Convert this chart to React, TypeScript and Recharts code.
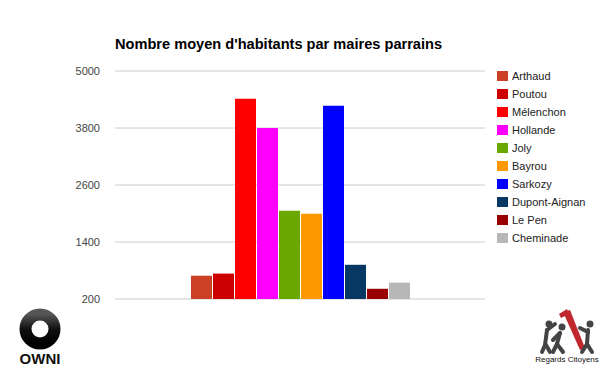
import { BarChart, Bar, XAxis, YAxis, CartesianGrid } from "recharts"

const candidates = ["Arthaud", "Poutou", "Mélenchon", "Hollande", "Joly", "Bayrou", "Sarkozy", "Dupont-Aignan", "Le Pen", "Cheminade"]
const averages = [690, 735, 4415, 3800, 2060, 1995, 4270, 920, 415, 545]
const colors = ["#cc4125", "#cc0000", "#ff0000", "#ff00ff", "#6aa800", "#ff9900", "#0000ff", "#073763", "#990000", "#b7b7b7"]
const yTicks = [200, 1400, 2600, 3800, 5000]

const FONT = "Arial, 'Liberation Sans', sans-serif"

// one category, one series per candidate
const row: Record<string, number | string> = { name: "" }
candidates.forEach((c, i) => { row[c] = averages[i] })
const chartData = [row]

function LegendList() {
  return (
    <div style={{ position: "absolute", left: 497, top: 67, fontFamily: FONT, fontSize: 11, color: "#222" }}>
      {candidates.map((c, i) => (
        <div key={c} style={{ display: "flex", alignItems: "center", height: 18 }}>
          <span style={{ width: 11, height: 10, background: colors[i], display: "inline-block", marginRight: 4 }} />
          <span>{c}</span>
        </div>
      ))}
    </div>
  )
}

function OwniLogo() {
  return (
    <svg width={70} height={70} style={{ position: "absolute", left: 5, top: 300 }}>
      <defs>
        <linearGradient id="ring" x1="0" y1="0" x2="0" y2="1">
          <stop offset="0" stopColor="#555" />
          <stop offset="0.5" stopColor="#111" />
          <stop offset="1" stopColor="#000" />
        </linearGradient>
      </defs>
      <circle cx={35} cy={29} r={14.5} fill="none" stroke="url(#ring)" strokeWidth={12} />
      <text x={35} y={64} textAnchor="middle" fontFamily={FONT} fontWeight="bold" fontSize={15} fill="#111">OWNI</text>
    </svg>
  )
}

function RegardsLogo() {
  return (
    <svg width={70} height={70} style={{ position: "absolute", left: 530, top: 300 }}>
      <polygon points="33,12 40,10 55,48 50,50" fill="#c0282d" />
      <polygon points="29,14 37,9 39,14 31,18" fill="#c0282d" />
      <g stroke="#444" strokeWidth={4} strokeLinecap="round" fill="none">
        <line x1={17} y1={30} x2={15} y2={45} />
        <line x1={15} y1={45} x2={12} y2={52} />
        <line x1={16} y1={45} x2={20} y2={52} />
        <line x1={17} y1={30} x2={25} y2={24} />
        <line x1={30} y1={33} x2={27} y2={44} />
        <line x1={27} y1={44} x2={23} y2={52} />
        <line x1={27} y1={44} x2={33} y2={52} />
        <line x1={30} y1={33} x2={23} y2={40} />
        <line x1={58} y1={30} x2={57} y2={44} />
        <line x1={57} y1={44} x2={52} y2={52} />
        <line x1={57} y1={44} x2={62} y2={52} />
        <line x1={58} y1={32} x2={50} y2={28} />
      </g>
      <g fill="#444">
        <circle cx={19} cy={24} r={3.5} />
        <circle cx={32} cy={27} r={3.5} />
        <circle cx={60} cy={24} r={3.5} />
      </g>
      <text x={37} y={62} textAnchor="middle" fontFamily={FONT} fontSize={8} fill="#111">Regards Citoyens</text>
    </svg>
  )
}

export default function App() {
  return (
    <div style={{ position: "absolute", left: 0, top: 0, width: 600, height: 371, background: "#fff" }}>
      <div style={{ position: "absolute", left: 115, top: 36, fontFamily: FONT, fontWeight: "bold", fontSize: 14.6, color: "#000", whiteSpace: "nowrap" }}>
        Nombre moyen d'habitants par maires parrains
      </div>
      <BarChart
        width={600}
        height={371}
        data={chartData}
        margin={{ top: 71, right: 115, bottom: 72, left: 15 }}
        barGap={1}
        barCategoryGap={76}
      >
        <CartesianGrid horizontal vertical={false} stroke="#cccccc" />
        <XAxis dataKey="name" height={0} tick={false} tickLine={false} axisLine={{ stroke: "#333", strokeWidth: 1 }} />
        <YAxis
          width={100}
          domain={[200, 5000]}
          ticks={yTicks}
          interval={0}
          axisLine={false}
          tickLine={false}
          tickSize={0}
          tickMargin={15}
          tick={{ fill: "#444", fontSize: 11, fontFamily: FONT }}
        />
        {candidates.map((c, i) => (
          <Bar key={c} dataKey={c} fill={colors[i]} isAnimationActive={false} />
        ))}
      </BarChart>
      <LegendList />
      <OwniLogo />
      <RegardsLogo />
    </div>
  )
}
